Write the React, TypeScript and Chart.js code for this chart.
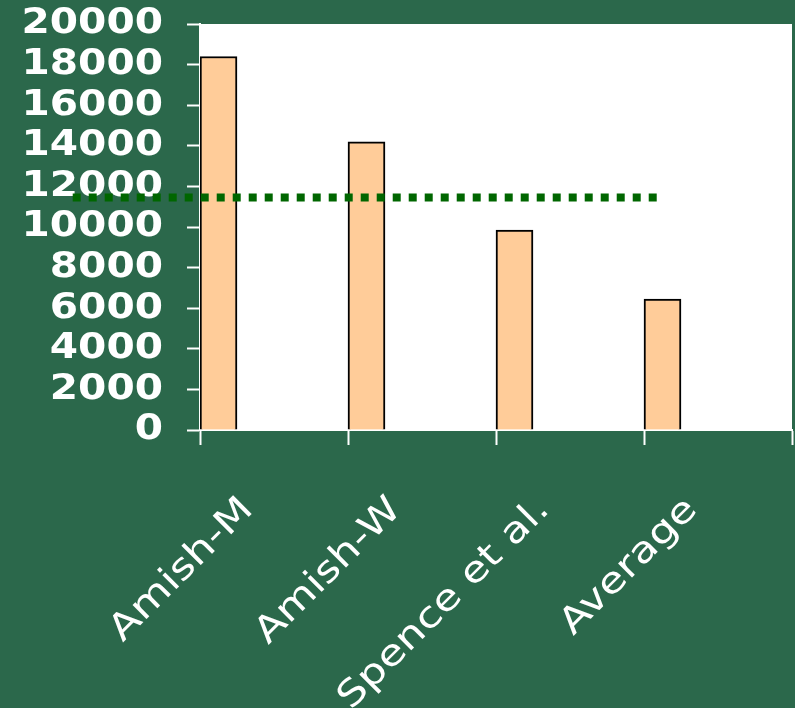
import React, { useEffect, useRef } from 'react';
import { Chart, registerables } from 'chart.js';

Chart.register(...registerables);

// ---- data ----
const categories = ['Amish-M', 'Amish-W', 'Spence et al.', 'Average'];
const values = [18400, 14200, 9850, 6450];
// three empty companion series: the bars sit in the first of four slots per category
const emptySeriesA = [null, null, null, null];
const emptySeriesB = [null, null, null, null];
const emptySeriesC = [null, null, null, null];
const referenceValue = 11450;
// horizontal extent of the dotted reference line, in category units (0 = left edge of plot)
const referenceSpan = [-0.86, 3.09];
const yMin = 0;
const yMax = 20000;
const yStep = 2000;

const BG = '#2b684b';

const plotBackground = {
  id: 'plotBackground',
  beforeDraw(chart: any) {
    const { ctx, chartArea } = chart;
    ctx.save();
    ctx.fillStyle = BG;
    ctx.fillRect(0, 0, chart.width, chart.height);
    ctx.fillStyle = '#ffffff';
    ctx.fillRect(chartArea.left, chartArea.top, chartArea.right - chartArea.left, chartArea.bottom - chartArea.top);
    ctx.restore();
  },
};

// dotted reference line, positioned through the chart's own scales
const referenceLine = {
  id: 'referenceLine',
  afterDatasetsDraw(chart: any) {
    const { ctx } = chart;
    const xs = chart.scales.xl;
    const ys = chart.scales.y;
    const y = ys.getPixelForValue(referenceValue);
    ctx.save();
    ctx.strokeStyle = '#006600';
    ctx.lineWidth = 8;
    ctx.lineCap = 'butt';
    ctx.setLineDash([8, 8]);
    ctx.beginPath();
    ctx.moveTo(xs.getPixelForValue(referenceSpan[0]), y);
    ctx.lineTo(xs.getPixelForValue(referenceSpan[1]), y);
    ctx.stroke();
    ctx.restore();
  },
};

// The reference uses a wide face; widen the label glyphs along their baseline.
const wideText = {
  id: 'wideText',
  beforeDraw(chart: any) {
    const ctx = chart.ctx as any;
    const orig = CanvasRenderingContext2D.prototype.fillText;
    ctx.fillText = function (text: string, x: number, y: number) {
      const f = /bold/.test(this.font) ? 1.13 : 1.2;
      this.save();
      this.scale(f, 1);
      orig.call(this, text, x / f, y);
      this.restore();
    };
  },
  afterDraw(chart: any) {
    delete (chart.ctx as any).fillText;
  },
};

export default function App() {
  const canvasRef = useRef<HTMLCanvasElement | null>(null);

  useEffect(() => {
    document.body.style.margin = '0';
    document.body.style.background = BG;
    const canvas = canvasRef.current;
    if (!canvas) return;
    const tickFontY = { family: 'DejaVu Sans', size: 36, weight: 'bold' as const, lineHeight: 1.2 };
    const tickFontX = { family: 'DejaVu Sans', size: 36, weight: 'normal' as const, lineHeight: 1.2 };
    const barOpts = { categoryPercentage: 1, barPercentage: 1 };
    const chart = new Chart(canvas, {
      type: 'bar',
      data: {
        labels: categories,
        datasets: [
          {
            label: 'Value',
            data: values,
            backgroundColor: '#ffcc99',
            borderColor: '#000000',
            borderWidth: 2,
            ...barOpts,
          },
          { label: 's2', data: emptySeriesA, ...barOpts },
          { label: 's3', data: emptySeriesB, ...barOpts },
          { label: 's4', data: emptySeriesC, ...barOpts },
        ],
      },
      options: {
        responsive: false,
        animation: false,
        layout: { padding: { top: 24, right: 3, left: 0, bottom: 0 } },
        plugins: { legend: { display: false }, tooltip: { enabled: false } },
        scales: {
          x: {
            type: 'category',
            offset: true,
            grid: {
              offset: true,
              drawOnChartArea: false,
              drawTicks: true,
              tickLength: 15,
              tickColor: '#ffffff',
              tickWidth: 2,
            },
            border: { color: '#ffffff', width: 2 },
            ticks: {
              color: '#ffffff',
              font: tickFontX,
              minRotation: 45,
              maxRotation: 45,
              padding: 44,
              labelOffset: -26,
              autoSkip: false,
            },
            afterFit: (s: any) => {
              s.height = 278;
              s.paddingLeft = 0;
              s.paddingRight = 0;
            },
          },
          xl: { type: 'linear', display: false, offset: false, grid: { offset: false }, min: 0, max: categories.length },
          y: {
            min: yMin,
            max: yMax,
            ticks: {
              stepSize: yStep,
              autoSkip: false,
              color: '#ffffff',
              font: tickFontY,
              padding: 24,
              callback: (v: any) => String(v),
            },
            grid: {
              drawOnChartArea: false,
              drawTicks: true,
              tickLength: 13,
              tickColor: '#ffffff',
              tickWidth: 2,
            },
            border: { color: '#ffffff', width: 2 },
            afterFit: (s: any) => {
              s.width = 200;
              s.paddingTop = 0;
              s.paddingBottom = 0;
            },
          },
        },
      } as any,
      plugins: [plotBackground, referenceLine, wideText],
    });
    return () => chart.destroy();
  }, []);

  return (
    <div style={{ position: 'fixed', left: 0, top: 0, width: 795, height: 708, background: BG, overflow: 'hidden' }}>
      <canvas ref={canvasRef} width={795} height={708} style={{ display: 'block' }} />
    </div>
  );
}
